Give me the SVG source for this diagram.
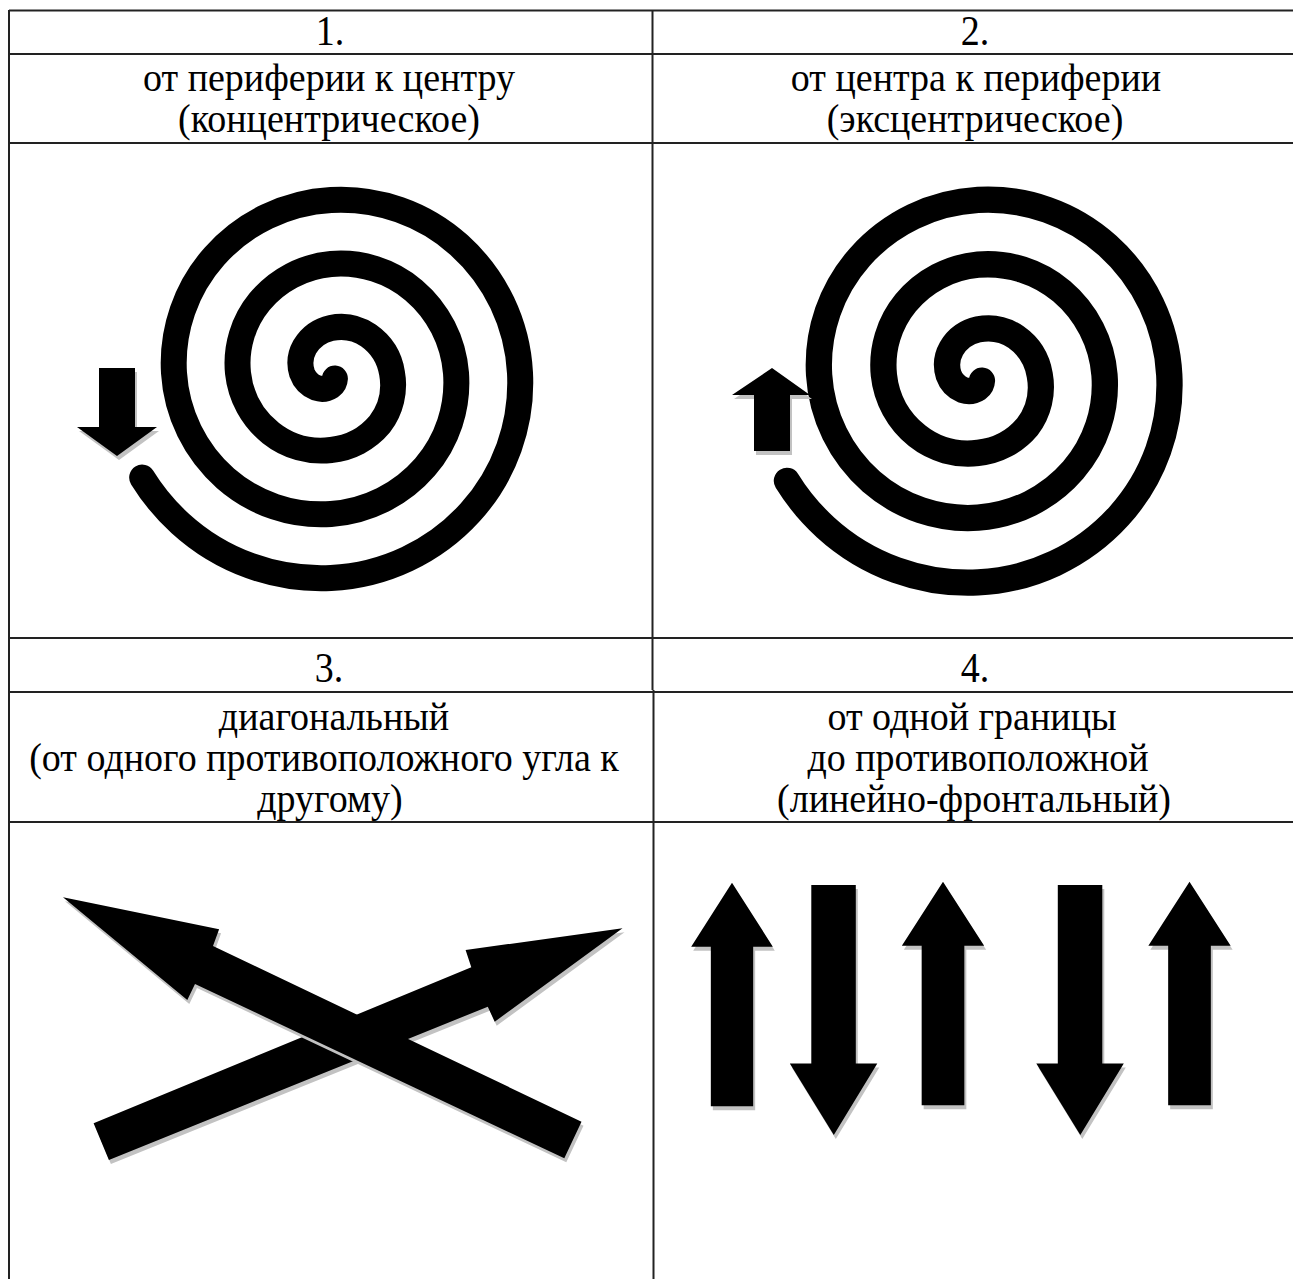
<svg xmlns="http://www.w3.org/2000/svg" xmlns:xlink="http://www.w3.org/1999/xlink" width="1293" height="1279" viewBox="0 0 1293 1279">
<style>
  .t { font-family: "Liberation Serif", "Times New Roman", serif; font-size: 42px; fill: #000; text-anchor: middle; }
  .t2 { font-family: "Liberation Serif", "Times New Roman", serif; font-size: 39px; fill: #000; text-anchor: middle; }
  .grid { stroke: #222; stroke-width: 2; fill: none; }
  .sp { fill: none; stroke: #000; stroke-width: 26; stroke-linecap: round; stroke-linejoin: round; }
  .ar { fill: #000; }
  .sh { fill: #c2c2c2; }
</style>
<defs>
  <path id="spiral" d="M142.2,477.6 A214,214 0 0 0 180.4,523.6 A209,209 0 0 0 331,578 A201,201 0 0 0 470.3,512.3 A193,193 0 0 0 520,373 A185,185 0 0 0 459,245 A177,177 0 0 0 331,200 A169,169 0 0 0 214.3,256.3 A161,161 0 0 0 174,373 A153,153 0 0 0 225.6,478.4 A145,145 0 0 0 331,514 A137,137 0 0 0 425,467 A129,129 0 0 0 456,373 A121,121 0 0 0 413.7,290.3 A113,113 0 0 0 331,264 A105,105 0 0 0 259.6,301.6 A97,97 0 0 0 238,373 A89,89 0 0 0 270.9,433.1 A81,81 0 0 0 331,450 A73,73 0 0 0 379.8,424.2 A65,65 0 0 0 392,373 A57,57 0 0 0 368.5,335.5 A49,49 0 0 0 331,328 A41,41 0 0 0 304.8,346.8 A33,33 0 0 0 302,373 A25,25 0 0 0 316.2,387.8 A17,17 0 0 0 331,386 A10,10 0 0 0 334.9,378.6"/>
  <polygon id="upArrow" points="0,0 40.5,64 21,64 21,223.5 -21,223.5 -21,64 -40.5,64"/>
  <polygon id="downArrow" points="0,0 43.5,-71.5 22,-71.5 22,-250 -22.5,-250 -22.5,-71.5 -44,-71.5"/>
</defs>

<g id="table">
  <line class="grid" x1="9" y1="10.5" x2="1293" y2="10.5"/>
  <line class="grid" x1="9" y1="54" x2="1293" y2="54"/>
  <line class="grid" x1="9" y1="143" x2="1293" y2="143"/>
  <line class="grid" x1="9" y1="638" x2="1293" y2="638"/>
  <line class="grid" x1="9" y1="692" x2="1293" y2="692"/>
  <line class="grid" x1="9" y1="822" x2="1293" y2="822"/>
  <line class="grid" x1="9" y1="10" x2="9" y2="1279"/>
  <line class="grid" x1="652.5" y1="10" x2="652.5" y2="690"/>
  <line class="grid" x1="653.5" y1="690" x2="653.5" y2="1279"/>
</g>

<g id="cell1-header">
  <text class="t" transform="translate(330,45) scale(0.905,1)">1.</text>
  <text class="t2" transform="translate(329,91) scale(0.975,1)">от периферии к центру</text>
  <text class="t2" transform="translate(329,132) scale(0.975,1)">(концентрическое)</text>
</g>
<g id="cell2-header">
  <text class="t" transform="translate(975,45) scale(0.905,1)">2.</text>
  <text class="t2" transform="translate(976,91) scale(0.975,1)">от центра к периферии</text>
  <text class="t2" transform="translate(975,132) scale(0.975,1)">(эксцентрическое)</text>
</g>
<g id="cell3-header">
  <text class="t" transform="translate(329,682) scale(0.905,1)">3.</text>
  <text class="t2" transform="translate(334,730) scale(0.975,1)">диагональный</text>
  <text class="t2" transform="translate(324,771) scale(0.975,1)">(от одного противоположного угла к</text>
  <text class="t2" transform="translate(330,812) scale(0.975,1)">другому)</text>
</g>
<g id="cell4-header">
  <text class="t" transform="translate(975,682) scale(0.905,1)">4.</text>
  <text class="t2" transform="translate(972,730) scale(0.975,1)">от одной границы</text>
  <text class="t2" transform="translate(978,771) scale(0.975,1)">до противоположной</text>
  <text class="t2" transform="translate(974,812) scale(0.975,1)">(линейно-фронтальный)</text>
</g>

<g id="spiral1">
  <use xlink:href="#spiral" href="#spiral" class="sp"/>
  <polygon class="sh" points="101,372 137,372 137,431 159,431 119,460 79,431 101,431"/>
  <polygon class="ar" points="99,368 135,368 135,427 157,427 117,456 77,427 99,427"/>
</g>

<g id="spiral2">
  <use xlink:href="#spiral" href="#spiral" class="sp" transform="translate(978,375) scale(1.012) translate(-331,-373)"/>
  <polygon class="sh" points="774,372 812,399 792,399 792,455 756,455 756,399 734,399"/>
  <polygon class="ar" points="772,368 810,395 790,395 790,451 754,451 754,395 732,395"/>
</g>

<g id="diagonal-arrows">
  <polygon class="sh" points="624.5,932.3 496.7,1025.7 489.8,1010.7 110.9,1164 95.6,1127.3 473.3,971.3 467.6,954"/>
  <polygon class="ar" points="622.5,928.3 494.7,1021.7 487.8,1006.7 108.9,1160 93.6,1123.3 471.3,967.3 465.6,950"/>
  <polygon class="sh" points="65,901.3 221.1,933.3 215,950 583.5,1125.7 566.3,1162.3 197,988 189.3,1004"/>
  <polygon class="ar" points="63,897.3 219.1,929.3 213,946 581.5,1121.7 564.3,1158.3 195,984 187.3,1000"/>
</g>

<g id="frontal-arrows">
  <use href="#upArrow" xlink:href="#upArrow" class="sh" transform="translate(734,886.7) scale(1.008,1)"/>
  <use href="#upArrow" xlink:href="#upArrow" class="ar" transform="translate(732,882.7) scale(1.008,1)"/>
  <use href="#downArrow" xlink:href="#downArrow" class="sh" transform="translate(835.8,1139)"/>
  <use href="#downArrow" xlink:href="#downArrow" class="ar" transform="translate(833.8,1135)"/>
  <use href="#upArrow" xlink:href="#upArrow" class="sh" transform="translate(945,885.7) scale(1.016,1)"/>
  <use href="#upArrow" xlink:href="#upArrow" class="ar" transform="translate(943,881.7) scale(1.016,1)"/>
  <use href="#downArrow" xlink:href="#downArrow" class="sh" transform="translate(1082.3,1139)"/>
  <use href="#downArrow" xlink:href="#downArrow" class="ar" transform="translate(1080.3,1135)"/>
  <use href="#upArrow" xlink:href="#upArrow" class="sh" transform="translate(1191.5,885.7) scale(1.016,1)"/>
  <use href="#upArrow" xlink:href="#upArrow" class="ar" transform="translate(1189.5,881.7) scale(1.016,1)"/>
</g>
</svg>
